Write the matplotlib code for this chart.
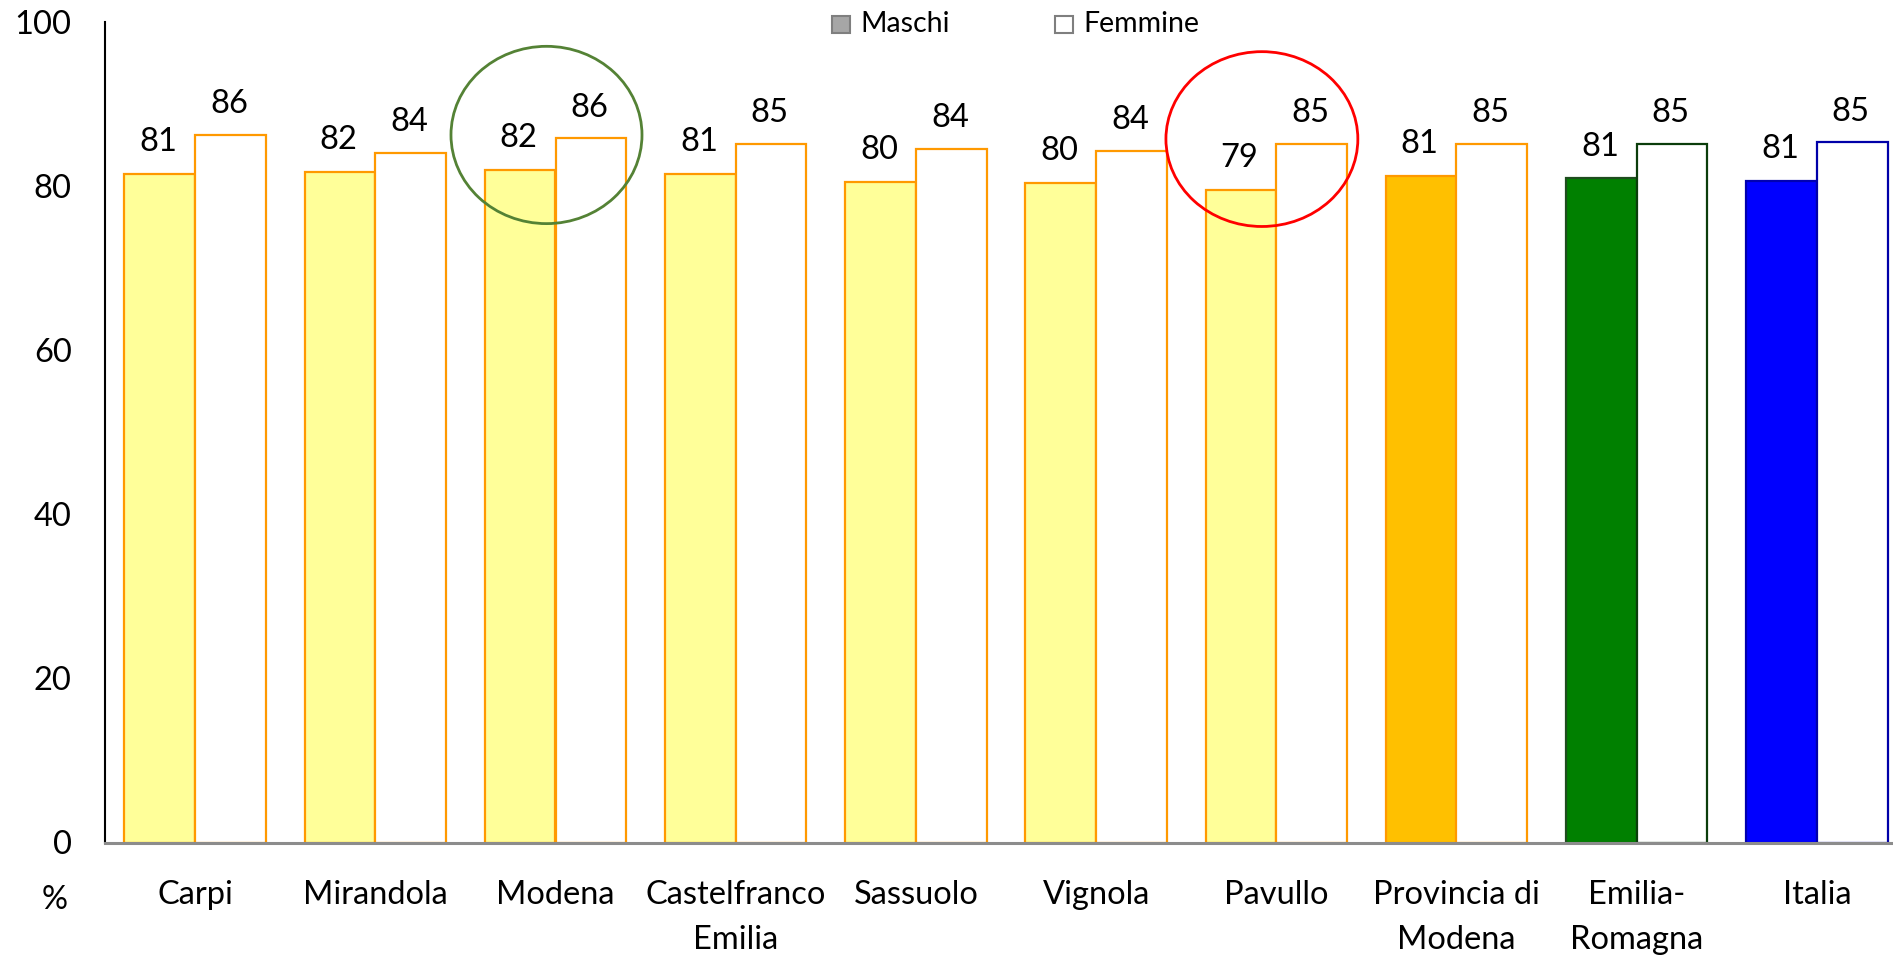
import matplotlib
matplotlib.use("Agg")
import matplotlib.pyplot as plt
from matplotlib.patches import Ellipse, Rectangle
import numpy as np

categories = ["Carpi", "Mirandola", "Modena", "Castelfranco\nEmilia", "Sassuolo",
              "Vignola", "Pavullo", "Provincia di\nModena", "Emilia-\nRomagna", "Italia"]
maschi = [81.45, 81.7, 81.9, 81.45, 80.45, 80.3, 79.45, 81.2, 80.9, 80.6]
femmine = [86.2, 84.0, 85.8, 85.1, 84.5, 84.3, 85.1, 85.1, 85.1, 85.3]
yticks = [0, 20, 40, 60, 80, 100]
legend_labels = ["Maschi", "Femmine"]

male_fill = ["#FFFF99"] * 7 + ["#FFC000", "#008000", "#0000FF"]
male_edge = ["#FF9900"] * 8 + ["#1E4D1E", "#0000B0"]
female_edge = ["#FF9900"] * 8 + ["#0B3D0B", "#0000A8"]

plt.rcParams['font.family'] = ['Lato', 'DejaVu Sans']
FS = 23.5

fig = plt.figure(figsize=(18.93, 9.57), dpi=100)
W, H = 1893, 957
ax = fig.add_axes([105/W, 1 - 842.5/H, (W - 105)/W, (842.5 - 21.7)/H])

x = np.arange(len(categories))
w = 0.392
ax.bar(x - w/2, maschi, width=w, color=male_fill, edgecolor=male_edge, linewidth=1.6, zorder=2)
ax.bar(x + w/2, femmine, width=w, color="white", edgecolor=female_edge, linewidth=1.6, zorder=2)

for xi, v in zip(x - w/2, maschi):
    ax.annotate(f"{v:.0f}", (xi, v), xytext=(-1, 23), textcoords="offset points",
                ha="center", va="center", fontsize=FS)
for xi, v in zip(x + w/2, femmine):
    ax.annotate(f"{v:.0f}", (xi, v), xytext=(-1, 22), textcoords="offset points",
                ha="center", va="center", fontsize=FS)

ax.set_xlim(-0.5, -0.5 + (W - 105) / 180.2)
ax.set_ylim(0, 100)
ax.set_yticks(yticks)
ax.set_yticklabels([str(t) for t in yticks], fontsize=FS)
ax.set_xticks(x)
ax.set_xticklabels(categories, fontsize=FS, linespacing=1.62)
ax.tick_params(axis="y", length=0, pad=24)
ax.tick_params(axis="x", length=0, pad=27)

for s in ["top", "right"]:
    ax.spines[s].set_visible(False)
ax.spines["left"].set_color("black")
ax.spines["left"].set_linewidth(1.5)
ax.spines["bottom"].set_color("#8C8C8C")
ax.spines["bottom"].set_linewidth(2.2)
ax.spines["bottom"].set_zorder(3)

ax.add_patch(Ellipse((1.95, 86.2), 1.06, 21.6, fill=False, edgecolor="#548235", linewidth=2.0, zorder=4, clip_on=False))
ax.add_patch(Ellipse((5.92, 85.7), 1.065, 21.3, fill=False, edgecolor="#FF0000", linewidth=2.0, zorder=4, clip_on=False))

# legend (manual placement to match reference)
leg_sq_x = [832, 1055]
leg_fill = ["#A6A6A6", "white"]
for lx, lf, lab in zip(leg_sq_x, leg_fill, legend_labels):
    fig.patches.append(Rectangle((lx/W, 1 - 33/H), 18/W, 17/H, transform=fig.transFigure,
                                 facecolor=lf, edgecolor="#7F7F7F", linewidth=1.5))
    fig.text((lx + 28)/W, 1 - 24/H, lab, fontsize=20.5, ha="left", va="center")

fig.text(55/W, 1 - 900/H, "%", fontsize=FS, ha="center", va="center")

fig.savefig("out.png", dpi=100)
